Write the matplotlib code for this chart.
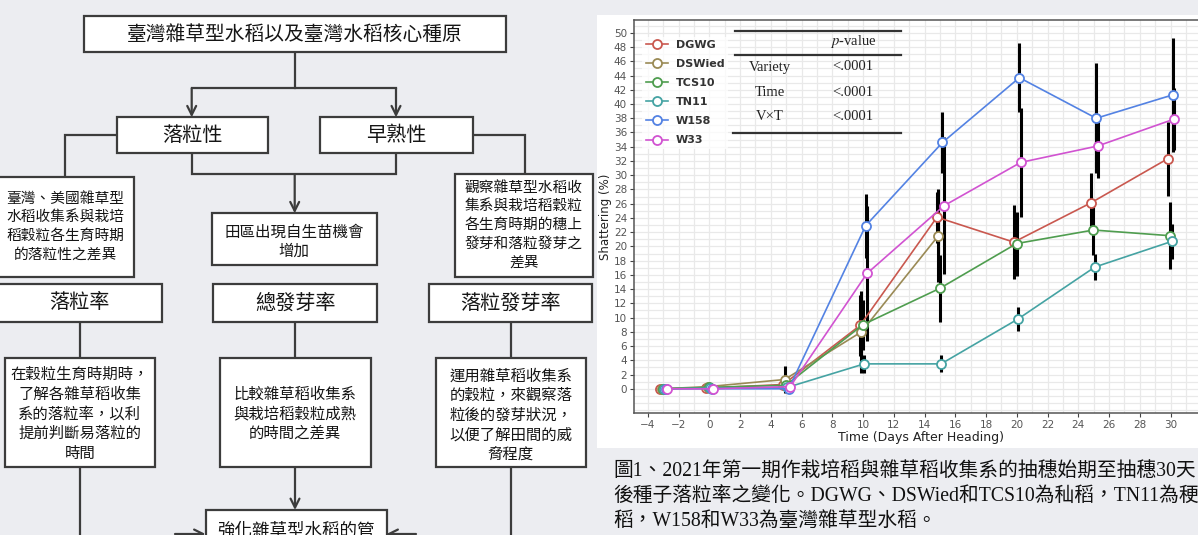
import numpy as np
import matplotlib.pyplot as plt
from matplotlib.lines import Line2D
from matplotlib.patches import Rectangle
from matplotlib.ticker import MultipleLocator

plt.switch_backend('agg')
plt.rcParams['font.family'] = ['Noto Sans CJK TC', 'DejaVu Sans']
plt.rcParams['mathtext.fontset'] = 'stix'

W, H = 1198, 535
BG = '#ecedf1'
EDGE = '#3c3c3c'
CJK = ['Noto Sans CJK TC', 'DejaVu Sans']
SERIF = ['Liberation Serif', 'Noto Sans CJK TC']

# shattering (%) by days after heading
days = [-3, 0, 5, 10, 15, 20, 25, 30]
varieties = ['DGWG', 'DSWied', 'TCS10', 'TN11', 'W158', 'W33']
colors = ['#c9584f', '#9a8a55', '#4f9d4f', '#45a3a3', '#5382e3', '#d153d1']
dgwg = [0.0, 0.1, 0.6, 8.9, 24.1, 20.6, 26.1, 32.3]
dswied = [0.0, 0.3, 1.3, 8.0, 21.5, np.nan, np.nan, np.nan]
tcs10 = [0.0, 0.2, 0.5, 9.0, 14.1, 20.4, 22.3, 21.5]
tn11 = [0.0, 0.1, 0.2, 3.5, 3.5, 9.8, 17.1, 20.7]
w158 = [0.0, 0.0, 0.0, 22.9, 34.6, 43.7, 38.0, 41.3]
w33 = [0.0, 0.0, 0.3, 16.2, 25.7, 31.8, 34.1, 37.9]
# standard errors
dgwg_se = [0.0, 0.1, 0.5, 4.3, 3.6, 5.2, 4.2, 5.2]
dswied_se = [0.0, 0.2, 1.9, 5.8, 6.5, np.nan, np.nan, np.nan]
tcs10_se = [0.0, 0.1, 0.3, 3.5, 4.7, 4.5, 3.5, 4.7]
tn11_se = [0.0, 0.1, 0.2, 1.3, 1.2, 1.7, 1.8, 2.5]
w158_se = [0.0, 0.1, 0.2, 4.5, 4.3, 4.8, 7.7, 8.0]
w33_se = [0.0, 0.1, 0.3, 9.5, 9.6, 7.7, 4.5, 4.3]
means = [dgwg, dswied, tcs10, tn11, w158, w33]
errors = [dgwg_se, dswied_se, tcs10_se, tn11_se, w158_se, w33_se]

anova_terms = ['Variety', 'Time', 'V×T']
anova_p = ['<.0001', '<.0001', '<.0001']

caption = ['圖1、2021年第一期作栽培稻與雜草稻收集系的抽穗始期至抽穗30天',
           '後種子落粒率之變化。DGWG、DSWied和TCS10為秈稻，TN11為稉',
           '稻，W158和W33為臺灣雜草型水稻。']

fig = plt.figure(figsize=(W / 100, H / 100), dpi=100, facecolor=BG)

# pixel-space canvas for the flowchart, panel and caption
fa = fig.add_axes([0, 0, 1, 1], zorder=0)
fa.set_xlim(0, W)
fa.set_ylim(H, 0)
fa.axis('off')


def box(x0, y0, x1, y1, lines, fs, gap, cy=None):
    fa.add_patch(Rectangle((x0, y0), x1 - x0, y1 - y0, facecolor='white',
                           edgecolor=EDGE, lw=1.6, zorder=3))
    cx = (x0 + x1) / 2
    if cy is None:
        cy = (y0 + y1) / 2
    n = len(lines)
    for k, s in enumerate(lines):
        fa.text(cx, cy + (k - (n - 1) / 2) * gap, s, ha='center', va='center',
                fontsize=fs, color='#151515', family=CJK, zorder=4)


def path(xs, ys):
    fa.plot(xs, ys, color=EDGE, lw=1.6, solid_joinstyle='miter', zorder=2)


def arrow(x0, y0, x1, y1):
    fa.annotate('', xy=(x1, y1), xytext=(x0, y0), zorder=2,
                arrowprops=dict(arrowstyle='->', lw=1.6, color=EDGE,
                                shrinkA=0, shrinkB=0, mutation_scale=16))


# flowchart connectors
path([294.7, 294.7], [52, 88.3])
path([191.7, 396], [88.3, 88.3])
arrow(191.7, 88.3, 191.7, 117.3)
arrow(396, 88.3, 396, 117.3)
path([116.7, 65.1, 65.1], [135, 135, 176.7])
path([472.6, 525, 525], [135, 135, 174])
path([192, 192, 396, 396], [153, 174.3, 174.3, 153])
arrow(294.7, 174.3, 294.7, 213.3)
path([80.4, 80.4], [321.7, 358.3])
path([295, 295], [321.7, 358.3])
path([510.9, 510.9], [321.7, 358.3])
path([79.6, 79.6], [466.7, 540])
path([510.9, 510.9], [466.7, 540])
arrow(295, 466.7, 295, 510)
arrow(175, 534, 205.5, 534)
arrow(416, 534, 386.5, 534)

# flowchart boxes
box(83.5, 15.7, 505.9, 52.3, ['臺灣雜草型水稻以及臺灣水稻核心種原'], 14.2, 0)
box(116.7, 117.3, 267.8, 153.3, ['落粒性'], 14.5, 0)
box(320.3, 117.3, 472.6, 153.3, ['早熟性'], 14.5, 0)
box(-3, 176.7, 134, 276.7, ['臺灣、美國雜草型', '水稻收集系與栽培',
                            '稻穀粒各生育時期', '的落粒性之差異'], 10.6, 18.5)
box(211.6, 213.3, 376.9, 265, ['田區出現自生苗機會', '增加'], 11.2, 19, cy=242)
box(454.6, 174, 593.2, 276.7, ['觀察雜草型水稻收', '集系與栽培稻穀粒',
                               '各生育時期的穗上', '發芽和落粒發芽之', '差異'], 10.6, 18.6)
box(-3, 284, 161.9, 321.7, ['落粒率'], 14.5, 0)
box(213.2, 284, 376.9, 321.7, ['總發芽率'], 14.5, 0)
box(428.5, 284, 592.4, 321.7, ['落粒發芽率'], 14.5, 0)
box(4.6, 358.3, 155, 466.7, ['在穀粒生育時期時，', '了解各雜草稻收集', '系的落粒率，以利',
                             '提前判斷易落粒的', '時間'], 11.1, 19.6, cy=414)
box(220, 358.3, 370.5, 466.7, ['比較雜草稻收集系', '與栽培稻穀粒成熟',
                               '的時間之差異'], 11.1, 19.2, cy=414)
box(436.2, 358.3, 585.5, 466.7, ['運用雜草稻收集系', '的穀粒，來觀察落', '粒後的發芽狀況，',
                                 '以便了解田間的威', '脅程度'], 11.1, 19.6, cy=415)
box(205.5, 510, 386.5, 560, ['強化雜草型水稻的管'], 12.6, 0, cy=531)

# white panel behind the chart
fa.add_patch(Rectangle((597, 15), W - 597, 433, facecolor='white',
                       edgecolor='none', zorder=1))

# caption
for k, s in enumerate(caption):
    fa.text(613, 472 + k * 24.7, s, ha='left', va='center', fontsize=14.2,
            color='#111111', family=SERIF)

# chart
ax = fig.add_axes([634 / W, 1 - 413 / H, (1209 - 634) / W, (413 - 20) / H], zorder=1)
ax.set_facecolor('white')
ax.set_xlim(-4.9, 32.5)
ax.set_ylim(-3.4, 51.8)
ax.xaxis.set_minor_locator(MultipleLocator(1))
ax.yaxis.set_minor_locator(MultipleLocator(1))
ax.set_xticks(np.arange(-4, 31, 2))
ax.set_yticks(np.arange(0, 51, 2))
ax.grid(which='both', color='#e9e9e9', lw=0.9)
ax.set_axisbelow(True)
for sp in ax.spines.values():
    sp.set_color('#555555')
    sp.set_linewidth(1.1)
ax.tick_params(which='major', length=3, color='#444444', labelcolor='#555555',
               labelsize=7.5, pad=2)
ax.tick_params(which='minor', length=0)

x = np.array(days, dtype=float)
for i, (name, col) in enumerate(zip(varieties, colors)):
    xi = x + (i - 2.5) * 0.09 + 0.03
    m = np.array(means[i])
    e = np.array(errors[i])
    ok = ~np.isnan(m)
    ax.vlines(xi[ok], (m - e)[ok], (m + e)[ok], color='black', lw=2.2, zorder=2)
    ax.plot(xi[ok], m[ok], color=col, lw=1.2, marker='o', ms=6.5, mfc='white',
            mec=col, mew=1.3, label=name, zorder=3)

ax.set_xlabel('Time (Days After Heading)', fontsize=9, color='#222222',
              family='DejaVu Sans', labelpad=1)
ax.set_ylabel('Shattering (%)', fontsize=8.5, color='#222222',
              family='DejaVu Sans', labelpad=1)
for t in ax.get_xticklabels() + ax.get_yticklabels():
    t.set_family('DejaVu Sans')

leg = ax.legend(loc='upper left', bbox_to_anchor=(0.005, 0.972), frameon=True,
                framealpha=0.75, facecolor='white', edgecolor='none',
                labelspacing=0.82, handlelength=2.0,
                handletextpad=0.7, borderpad=0.3,
                prop={'family': 'DejaVu Sans', 'weight': 'bold', 'size': 8})
for t in leg.get_texts():
    t.set_color('#333333')

# ANOVA summary table
def fx(px):
    return px / W


def fy(py):
    return 1 - py / H


for py in (30.7, 55):
    fig.add_artist(Line2D([fx(735), fx(901)], [fy(py), fy(py)], color='#333333',
                          lw=1.6, zorder=5))
fig.add_artist(Line2D([fx(733), fx(901)], [fy(133), fy(133)], color='#333333',
                      lw=1.6, zorder=5))
fig.text(fx(853), fy(42), r'$p$-value', ha='center', va='center', fontsize=10.5,
         family=SERIF, color='#222222', zorder=5)
for k, (term, p) in enumerate(zip(anova_terms, anova_p)):
    fig.text(fx(770), fy(67 + 25 * k), term, ha='center', va='center',
             fontsize=10.5, family=SERIF, color='#222222', zorder=5)
    fig.text(fx(853), fy(67 + 25 * k), p, ha='center', va='center',
             fontsize=10.5, family=SERIF, color='#222222', zorder=5)

fig.savefig('out.png', dpi=100, facecolor=BG)
